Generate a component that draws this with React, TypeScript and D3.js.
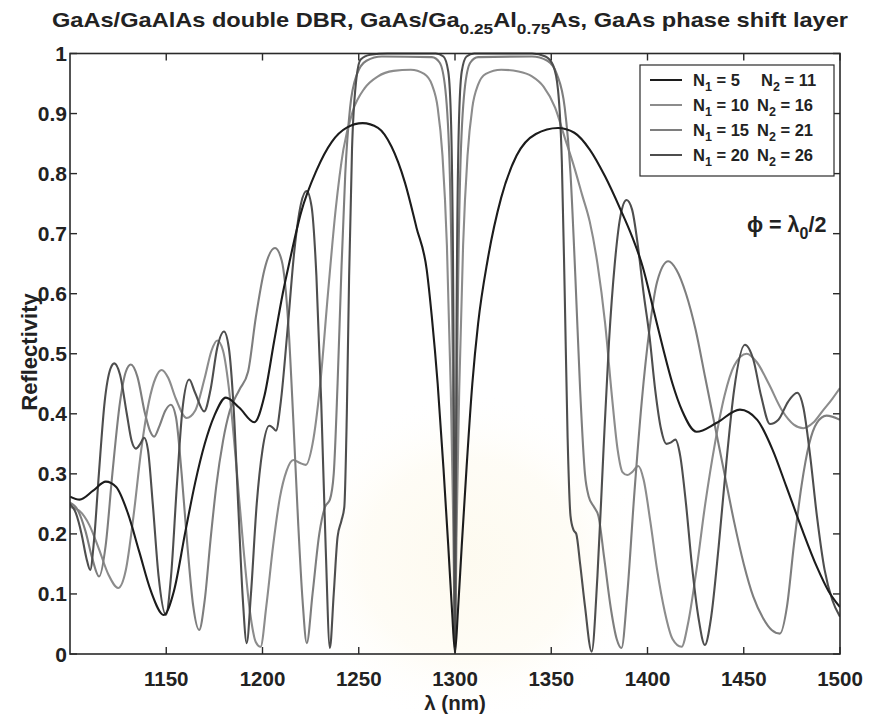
import React from 'react';
import * as d3 from 'd3';

type Pt = [number, number];

const xTickValues = [1150, 1200, 1250, 1300, 1350, 1400, 1450, 1500];
const yTickValues = [0, 0.1, 0.2, 0.3, 0.4, 0.5, 0.6, 0.7, 0.8, 0.9, 1];
const yTickLabels = ['0', '0.1', '0.2', '0.3', '0.4', '0.5', '0.6', '0.7', '0.8', '0.9', '1'];

// N1 = 5, N2 = 11
const seriesN5: Pt[] = [
  [1100,0.262],[1105,0.257],[1112,0.272],[1118.6,0.287],[1124,0.278],[1130,0.235],[1136,0.17],[1142,0.105],
  [1148.7,0.065],[1154,0.105],[1160,0.205],[1165,0.285],[1170,0.35],[1175,0.397],[1181,0.427],[1188,0.41],
  [1195.7,0.386],[1201,0.43],[1206,0.52],[1210.5,0.6],[1214.3,0.657],[1220,0.735],[1228,0.805],[1236,0.853],
  [1244,0.877],[1252,0.884],[1260,0.876],[1267,0.845],[1274,0.785],[1280,0.71],[1285.3,0.64],[1288,0.56],
  [1291,0.45],[1294,0.31],[1296.5,0.18],[1298.5,0.07],[1300,0.003],[1301.5,0.07],[1303.5,0.18],[1306,0.31],
  [1309,0.45],[1312,0.55],[1317,0.657],[1324,0.76],[1332,0.83],[1342,0.866],[1353.5,0.876],[1362,0.868],
  [1370,0.84],[1378,0.795],[1386,0.74],[1392,0.695],[1397.5,0.645],[1403,0.575],[1408,0.51],[1413,0.45],
  [1418,0.405],[1425.5,0.37],[1436,0.385],[1448,0.407],[1457,0.39],[1465,0.34],[1472,0.28],[1480,0.21],
  [1488,0.145],[1494,0.105],[1500,0.078],
];

// N1 = 10, N2 = 16
const seriesN10: Pt[] = [
  [1100,0.245],[1105,0.238],[1110,0.215],[1115,0.175],[1120,0.132],[1125,0.11],[1129,0.14],[1133,0.23],
  [1137,0.34],[1141,0.42],[1144.5,0.46],[1147.6,0.473],[1151,0.46],[1155,0.425],[1160.6,0.393],[1165,0.405],
  [1170,0.46],[1173.5,0.505],[1176.5,0.522],[1179.5,0.505],[1183,0.43],[1186.5,0.31],[1190,0.18],[1193.5,0.07],
  [1196.5,0.02],[1199,0.012],[1202,0.08],[1205.5,0.18],[1209,0.26],[1212.5,0.305],[1216,0.323],[1219.5,0.318],
  [1222.5,0.315],[1226,0.35],[1230,0.45],[1234,0.6],[1238,0.74],[1242,0.84],[1247,0.905],[1253,0.942],
  [1260,0.962],[1268,0.971],[1277,0.973],[1284,0.966],[1288,0.948],[1291,0.91],[1293.5,0.83],[1295.8,0.68],
  [1297.8,0.44],[1299.2,0.2],[1300,0.003],[1300.8,0.2],[1302.2,0.44],[1304.2,0.68],[1306.5,0.83],[1309,0.91],
  [1312,0.948],[1316,0.966],[1324,0.973],[1333,0.97],[1340,0.962],[1346,0.945],[1352,0.91],[1357,0.86],
  [1362,0.81],[1366,0.765],[1370,0.72],[1374,0.65],[1378,0.55],[1381.5,0.43],[1384.5,0.34],[1387,0.303],
  [1389.5,0.298],[1392,0.303],[1395.2,0.313],[1398,0.29],[1401.5,0.22],[1405,0.14],[1409,0.07],[1413,0.025],
  [1417.7,0.012],[1421,0.05],[1425,0.13],[1430,0.25],[1435,0.35],[1440,0.43],[1445,0.48],[1451.5,0.5],
  [1457,0.485],[1463,0.45],[1470,0.405],[1476,0.382],[1481,0.376],[1486,0.385],[1491,0.405],[1496,0.425],
  [1500,0.443],
];

// N1 = 15, N2 = 21
const seriesN15: Pt[] = [
  [1100,0.252],[1104,0.24],[1108,0.205],[1111.5,0.16],[1115.1,0.129],[1118.5,0.18],[1122,0.3],[1126,0.42],
  [1129,0.47],[1131.6,0.482],[1135,0.462],[1139,0.4],[1141.5,0.372],[1143.7,0.362],[1146.5,0.38],[1149.5,0.405],
  [1152.4,0.415],[1155,0.395],[1158,0.3],[1161,0.18],[1164,0.08],[1167.1,0.04],[1170,0.09],[1173,0.19],
  [1176,0.28],[1179.5,0.355],[1183,0.405],[1188,0.44],[1192.5,0.47],[1196.5,0.56],[1201,0.64],[1206.5,0.676],
  [1210,0.655],[1213.4,0.55],[1216,0.39],[1218.5,0.22],[1220.8,0.09],[1223,0.018],[1226,0.1],[1229.5,0.2],
  [1232.5,0.245],[1235,0.257],[1237,0.3],[1239,0.45],[1241,0.64],[1243,0.8],[1245.5,0.91],[1249,0.965],
  [1254,0.988],[1262,0.995],[1288,0.994],[1292,0.985],[1295,0.94],[1297.3,0.8],[1298.8,0.5],[1300,0.003],
  [1301.2,0.5],[1302.7,0.8],[1305,0.94],[1308,0.985],[1312,0.994],[1340,0.995],[1348,0.988],[1353,0.965],
  [1357,0.91],[1360,0.8],[1362.5,0.63],[1365,0.44],[1367.5,0.3],[1369.5,0.262],[1372,0.246],[1374.5,0.23],
  [1377.5,0.16],[1381,0.075],[1384,0.025],[1386.5,0.01],[1389.5,0.1],[1393,0.26],[1397,0.42],[1401,0.54],
  [1405,0.62],[1410.8,0.654],[1415,0.64],[1420,0.6],[1425,0.54],[1430,0.46],[1435,0.38],[1440,0.3],
  [1445,0.22],[1450,0.15],[1455,0.095],[1460,0.06],[1464.5,0.04],[1468.8,0.034],[1472.5,0.08],[1476,0.18],
  [1480,0.28],[1484,0.35],[1488,0.385],[1493,0.397],[1500,0.39],
];

// N1 = 20, N2 = 26
const seriesN20: Pt[] = [
  [1100,0.25],[1103,0.235],[1106,0.2],[1108.5,0.16],[1110.5,0.14],[1112.5,0.19],[1115,0.3],[1118,0.42],
  [1121,0.475],[1123,0.484],[1126,0.465],[1129.5,0.4],[1132,0.355],[1134.2,0.342],[1136.5,0.35],[1138.5,0.36],
  [1140.5,0.34],[1143,0.25],[1146,0.13],[1149.8,0.065],[1152.5,0.13],[1155.5,0.28],[1158.5,0.41],[1161.9,0.457],
  [1165,0.435],[1169.7,0.404],[1173,0.44],[1176.5,0.51],[1180,0.537],[1182.5,0.51],[1185,0.41],[1187.5,0.24],
  [1189.8,0.09],[1191.8,0.018],[1194,0.1],[1197,0.25],[1200,0.34],[1203.5,0.38],[1205,0.378],[1207,0.372],
  [1209.5,0.42],[1213,0.54],[1216.5,0.67],[1220,0.75],[1222.9,0.771],[1225.5,0.745],[1228,0.63],[1230.5,0.42],
  [1232.8,0.18],[1235,0.01],[1237,0.1],[1239,0.195],[1241,0.222],[1242.5,0.245],[1243.8,0.4],[1245,0.63],
  [1246.5,0.84],[1248.5,0.95],[1251,0.99],[1256,0.998],[1265,1.0],[1290,1.0],[1294,0.995],[1296.5,0.97],
  [1298,0.88],[1299.2,0.55],[1300,0.003],[1300.8,0.55],[1302,0.88],[1303.5,0.97],[1306,0.995],[1310,1.0],
  [1340,1.0],[1347,0.995],[1351,0.98],[1353.5,0.94],[1355.5,0.82],[1357,0.6],[1358.5,0.36],[1360,0.23],
  [1361.5,0.207],[1363,0.2],[1365,0.15],[1367.5,0.08],[1371,0.004],[1374,0.13],[1377,0.33],[1380,0.52],
  [1383,0.65],[1386,0.73],[1389.1,0.756],[1392,0.74],[1395,0.68],[1398,0.6],[1401,0.53],[1404,0.44],
  [1407,0.375],[1409.8,0.35],[1412,0.352],[1414.5,0.357],[1417,0.33],[1420,0.25],[1423,0.15],[1426.5,0.06],
  [1429.8,0.015],[1433,0.06],[1437,0.18],[1441,0.32],[1445,0.44],[1450.6,0.515],[1455,0.49],[1459,0.43],
  [1463.6,0.383],[1468,0.39],[1473,0.42],[1477.8,0.435],[1481,0.41],[1484.5,0.33],[1488,0.23],[1492,0.14],
  [1496,0.09],[1500,0.062],
];

const legendN1 = ['5', '10', '15', '20'];
const legendN2 = ['11', '16', '21', '26'];

const FONT = '"Liberation Sans", Arial, Helvetica, sans-serif';

export default function App() {
  const left = 70, right = 840, top = 53.5, bottom = 654;
  const x = d3.scaleLinear().domain([1100, 1500]).range([left, right]);
  const y = d3.scaleLinear().domain([0, 1]).range([bottom, top]);
  const line = d3.line<Pt>().x(d => x(d[0])).y(d => y(d[1])).curve(d3.curveMonotoneX);

  const series = [
    { data: seriesN10, color: '#8c8c8c' },
    { data: seriesN15, color: '#7e7e7e' },
    { data: seriesN20, color: '#4e4e4e' },
    { data: seriesN5, color: '#1c1c1c' },
  ];
  const legendColors = ['#1c1c1c', '#8c8c8c', '#7e7e7e', '#4e4e4e'];
  const tickLen = 7;
  const axisColor = '#2a2a2a';

  return (
    <svg width={873} height={714} style={{ position: 'absolute', left: 0, top: 0, background: '#fff' }}
      fontFamily={FONT} fontWeight="bold">
      <defs>
        <clipPath id="plotClip">
          <rect x={left} y={top - 2} width={right - left} height={bottom - top + 2} />
        </clipPath>
        <radialGradient id="wm" cx="0.5" cy="0.5" r="0.5">
          <stop offset="0" stopColor="#fdf9ec" stopOpacity={0.8} />
          <stop offset="0.6" stopColor="#fdf8e8" stopOpacity={0.4} />
          <stop offset="1" stopColor="#ffffff" stopOpacity={0} />
        </radialGradient>
      </defs>
      <rect x={0} y={0} width={873} height={714} fill="#ffffff" />
      <ellipse cx={470} cy={560} rx={180} ry={170} fill="url(#wm)" />

      {/* Title */}
      <text x={52} y={27} fontSize={20.5} fill="#222" textLength={796} lengthAdjust="spacingAndGlyphs">
        GaAs/GaAlAs double DBR, GaAs/Ga<tspan dy={7} fontSize={15}>0.25</tspan>
        <tspan dy={-7}>Al</tspan><tspan dy={7} fontSize={15}>0.75</tspan>
        <tspan dy={-7}>As, GaAs phase shift layer</tspan>
      </text>

      {/* Curves */}
      <g clipPath="url(#plotClip)" fill="none">
        {series.map((s, i) => (
          <path key={i} d={line(s.data) || ''} stroke={s.color} strokeWidth={2.1} strokeLinejoin="round" />
        ))}
      </g>

      {/* Frame */}
      <rect x={left} y={top} width={right - left} height={bottom - top} fill="none" stroke={axisColor} strokeWidth={1.6} />

      {/* X ticks */}
      {xTickValues.map(v => (
        <g key={'xt' + v}>
          <line x1={x(v)} x2={x(v)} y1={bottom} y2={bottom - tickLen} stroke={axisColor} strokeWidth={1.4} />
          <line x1={x(v)} x2={x(v)} y1={top} y2={top + tickLen} stroke={axisColor} strokeWidth={1.4} />
          <text x={x(v)} y={686} fontSize={20.5} textAnchor="middle" fill="#222">{v}</text>
        </g>
      ))}

      {/* Y ticks */}
      {yTickValues.map((v, i) => (
        <g key={'yt' + v}>
          <line x1={left} x2={left + tickLen} y1={y(v)} y2={y(v)} stroke={axisColor} strokeWidth={1.4} />
          <line x1={right} x2={right - tickLen} y1={y(v)} y2={y(v)} stroke={axisColor} strokeWidth={1.4} />
          <text x={left - 3} y={y(v) + 7.5} fontSize={21} textAnchor="end" fill="#222">{yTickLabels[i]}</text>
        </g>
      ))}

      {/* Axis labels */}
      <text x={455} y={710} fontSize={20.5} textAnchor="middle" fill="#222">λ (nm)</text>
      <text transform="translate(37,352) rotate(-90)" fontSize={22} textAnchor="middle" fill="#222">Reflectivity</text>

      {/* Legend */}
      <rect x={640} y={65} width={194} height={111} fill="#fff" stroke={axisColor} strokeWidth={1.2} />
      {legendN1.map((n1, i) => {
        const ry = 80 + i * 25;
        return (
          <g key={'lg' + i}>
            <line x1={650} x2={682} y1={ry} y2={ry} stroke={legendColors[i]} strokeWidth={2} />
            <text x={693} y={ry + 6} fontSize={16.5} fill="#222">
              N<tspan dy={5} fontSize={12.5}>1</tspan><tspan dy={-5}> = {n1}</tspan>
            </text>
            <text x={i === 0 ? 761 : 757} y={ry + 6} fontSize={16.5} fill="#222">
              N<tspan dy={5} fontSize={12.5}>2</tspan><tspan dy={-5}> = {legendN2[i]}</tspan>
            </text>
          </g>
        );
      })}

      {/* Phase label */}
      <text x={747} y={232} fontSize={21.5} fill="#222">
        ϕ = λ<tspan dy={7} fontSize={16}>0</tspan><tspan dy={-7}>/2</tspan>
      </text>
    </svg>
  );
}
